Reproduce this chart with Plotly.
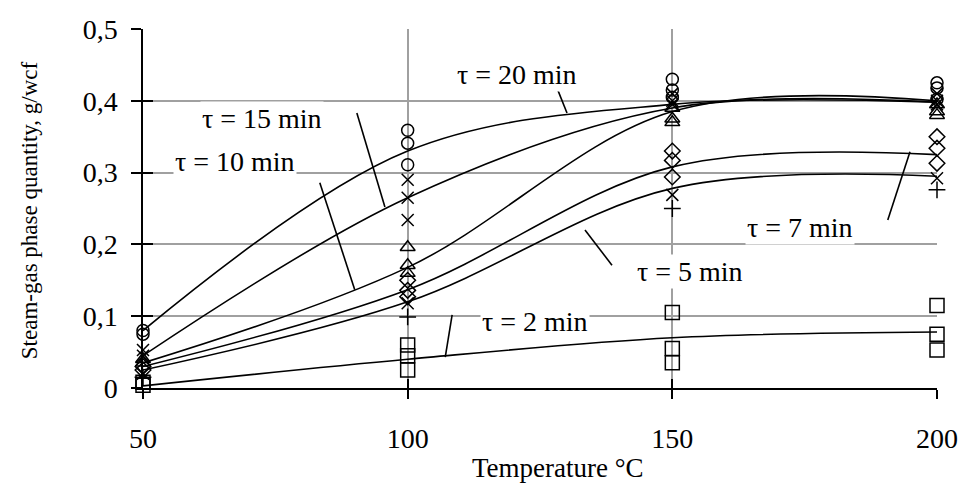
import plotly.graph_objects as go

# ---------------- data ----------------
temperatures = [50, 100, 150, 200]
x_tick_values = [50, 100, 150, 200]
y_tick_values = [0, 0.1, 0.2, 0.3, 0.4, 0.5]
y_tick_labels = ["0", "0,1", "0,2", "0,3", "0,4", "0,5"]
y_grid_values = [0.1, 0.2, 0.3, 0.4]

series_labels = ["τ = 2 min", "τ = 5 min", "τ = 7 min", "τ = 10 min", "τ = 15 min", "τ = 20 min"]

# smoothed (fitted) curves, value at each temperature
fit_tau2 = [0.003, 0.040, 0.070, 0.078]
fit_tau5 = [0.025, 0.120, 0.278, 0.295]
fit_tau7 = [0.030, 0.137, 0.308, 0.325]
fit_tau10 = [0.035, 0.168, 0.385, 0.400]
fit_tau15 = [0.045, 0.265, 0.390, 0.398]
fit_tau20 = [0.080, 0.330, 0.395, 0.398]

# measured points (replicates) at each temperature
points_tau2 = [[0.008, 0.004], [0.060, 0.045, 0.025], [0.105, 0.055, 0.035], [0.115, 0.075, 0.053]]
points_tau5 = [[0.020, 0.015], [0.118, 0.099], [0.269, 0.250], [0.292, 0.276]]
points_tau7 = [[0.030, 0.025], [0.150, 0.136, 0.127], [0.330, 0.317, 0.294], [0.350, 0.334, 0.313]]
points_tau10 = [[0.040, 0.035], [0.196, 0.171, 0.160], [0.390, 0.375, 0.370], [0.395, 0.385, 0.380]]
points_tau15 = [[0.053, 0.045], [0.290, 0.265, 0.234], [0.410, 0.400, 0.395], [0.410, 0.400, 0.395]]
points_tau20 = [[0.080, 0.075], [0.359, 0.341, 0.311], [0.430, 0.415, 0.405], [0.425, 0.418, 0.402]]

fits = [fit_tau2, fit_tau5, fit_tau7, fit_tau10, fit_tau15, fit_tau20]
points = [points_tau2, points_tau5, points_tau7, points_tau10, points_tau15, points_tau20]

# ---------------- style ----------------
FONT = "Liberation Serif, Times New Roman, serif"
symbols = [
    ["square-open"],
    ["x-thin-open", "cross-thin-open"],
    ["diamond-open"],
    ["triangle-up-open"],
    ["x-thin-open"],
    ["circle-open"],
]
marker_sizes = [14, 12, 12, 13, 12, 12]

# label placement (data coords) and leader lines (data coords)
label_pos = [(124.1, 0.092), (153.3, 0.162), (174.1, 0.223), (67.4, 0.315), (72.5, 0.376), (120.7, 0.436)]
leaders = [
    ((107.1, 0.043), (108.4, 0.102)),
    ((133.5, 0.220), (138.6, 0.171)),
    ((194.9, 0.329), (190.7, 0.234)),
    ((83.4, 0.286), (90.0, 0.137)),
    ((90.4, 0.383), (95.7, 0.252)),
    ((128.2, 0.418), (130.1, 0.383)),
]

fig = go.Figure()

for fit in fits:
    fig.add_trace(go.Scatter(
        x=temperatures, y=fit, mode="lines",
        line=dict(color="black", width=1.6, shape="spline", smoothing=1.0),
        showlegend=False, hoverinfo="skip", cliponaxis=False,
    ))

for k, pts in enumerate(points):
    nrep = max(len(p) for p in pts)
    for j in range(nrep):
        xs, ys = [], []
        for t, p in zip(temperatures, pts):
            if j < len(p):
                xs.append(t)
                ys.append(p[j])
        sym = symbols[k][j % len(symbols[k])]
        fig.add_trace(go.Scatter(
            x=xs, y=ys, mode="markers",
            marker=dict(symbol=sym, size=marker_sizes[k], color="black",
                        line=dict(color="black", width=1.5)),
            showlegend=False, cliponaxis=False,
        ))

# dummy traces for overlay axes
fig.add_trace(go.Scatter(x=[], y=[], xaxis="x2", yaxis="y2", showlegend=False))
fig.add_trace(go.Scatter(x=[], y=[], xaxis="x2", yaxis="y3", showlegend=False))

for (p0, p1) in leaders:
    fig.add_shape(type="line", x0=p0[0], y0=p0[1], x1=p1[0], y1=p1[1],
                  xref="x", yref="y", line=dict(color="black", width=1.6), layer="above")

for text, (lx, ly) in zip(series_labels, label_pos):
    fig.add_annotation(x=lx, y=ly, xref="x", yref="y", text=text, showarrow=False,
                       font=dict(family=FONT, size=28, color="black"),
                       bgcolor="white", borderpad=1)

fig.add_annotation(x=0.523, y=-0.223, xref="paper", yref="paper",
                   text="Temperature °C", showarrow=False,
                   xanchor="center", yanchor="middle",
                   font=dict(family=FONT, size=27, color="black"))
fig.add_annotation(x=-0.142, y=0.496, xref="paper", yref="paper",
                   text="Steam-gas phase quantity, g/wcf", showarrow=False,
                   textangle=-90, xanchor="center", yanchor="middle",
                   font=dict(family=FONT, size=23, color="black"))

xr = [50, 200]
yr = [0, 0.5]
fig.update_layout(
    width=962, height=484,
    margin=dict(l=143, r=25, t=29, b=96),
    paper_bgcolor="white", plot_bgcolor="white",
    font=dict(family=FONT, size=28, color="black"),
    xaxis=dict(range=xr, tickvals=x_tick_values, ticks="outside", ticklen=9, tickwidth=1.5,
               tickcolor="black", showline=True, linecolor="black", linewidth=1.5,
               showgrid=True, gridcolor="#a0a0a0", gridwidth=1.5, zeroline=False,
               automargin=False, ticklabeloverflow="allow",
               ticklabelstandoff=16, tickfont=dict(family=FONT, size=28)),
    yaxis=dict(range=yr, tickvals=y_tick_values, ticktext=y_tick_labels, ticks="outside",
               ticklen=10, tickwidth=1.5, tickcolor="black", showline=True, linecolor="black",
               linewidth=1.5, showgrid=False, zeroline=False, ticklabelstandoff=8,
               automargin=False, tickfont=dict(family=FONT, size=28)),
    xaxis2=dict(range=xr, overlaying="x", anchor="y", tickvals=x_tick_values, ticks="inside",
                ticklen=9, tickwidth=1.5, tickcolor="black", showticklabels=False,
                automargin=False, showgrid=False, showline=False, zeroline=False),
    yaxis2=dict(range=yr, overlaying="y", anchor="x", tickvals=y_tick_values, ticks="inside",
                ticklen=10, tickwidth=1.5, tickcolor="black", showticklabels=False,
                automargin=False, showgrid=False, showline=False, zeroline=False),
    yaxis3=dict(range=yr, overlaying="y", anchor="x", tickvals=y_grid_values, ticks="",
                showticklabels=False, showgrid=True, gridcolor="#a0a0a0", gridwidth=1.5,
                automargin=False, showline=False, zeroline=False),
)

fig.write_html("out.html",
               config={"displayModeBar": False},
               post_script="document.body.style.margin='0';document.body.style.overflow='hidden';")
